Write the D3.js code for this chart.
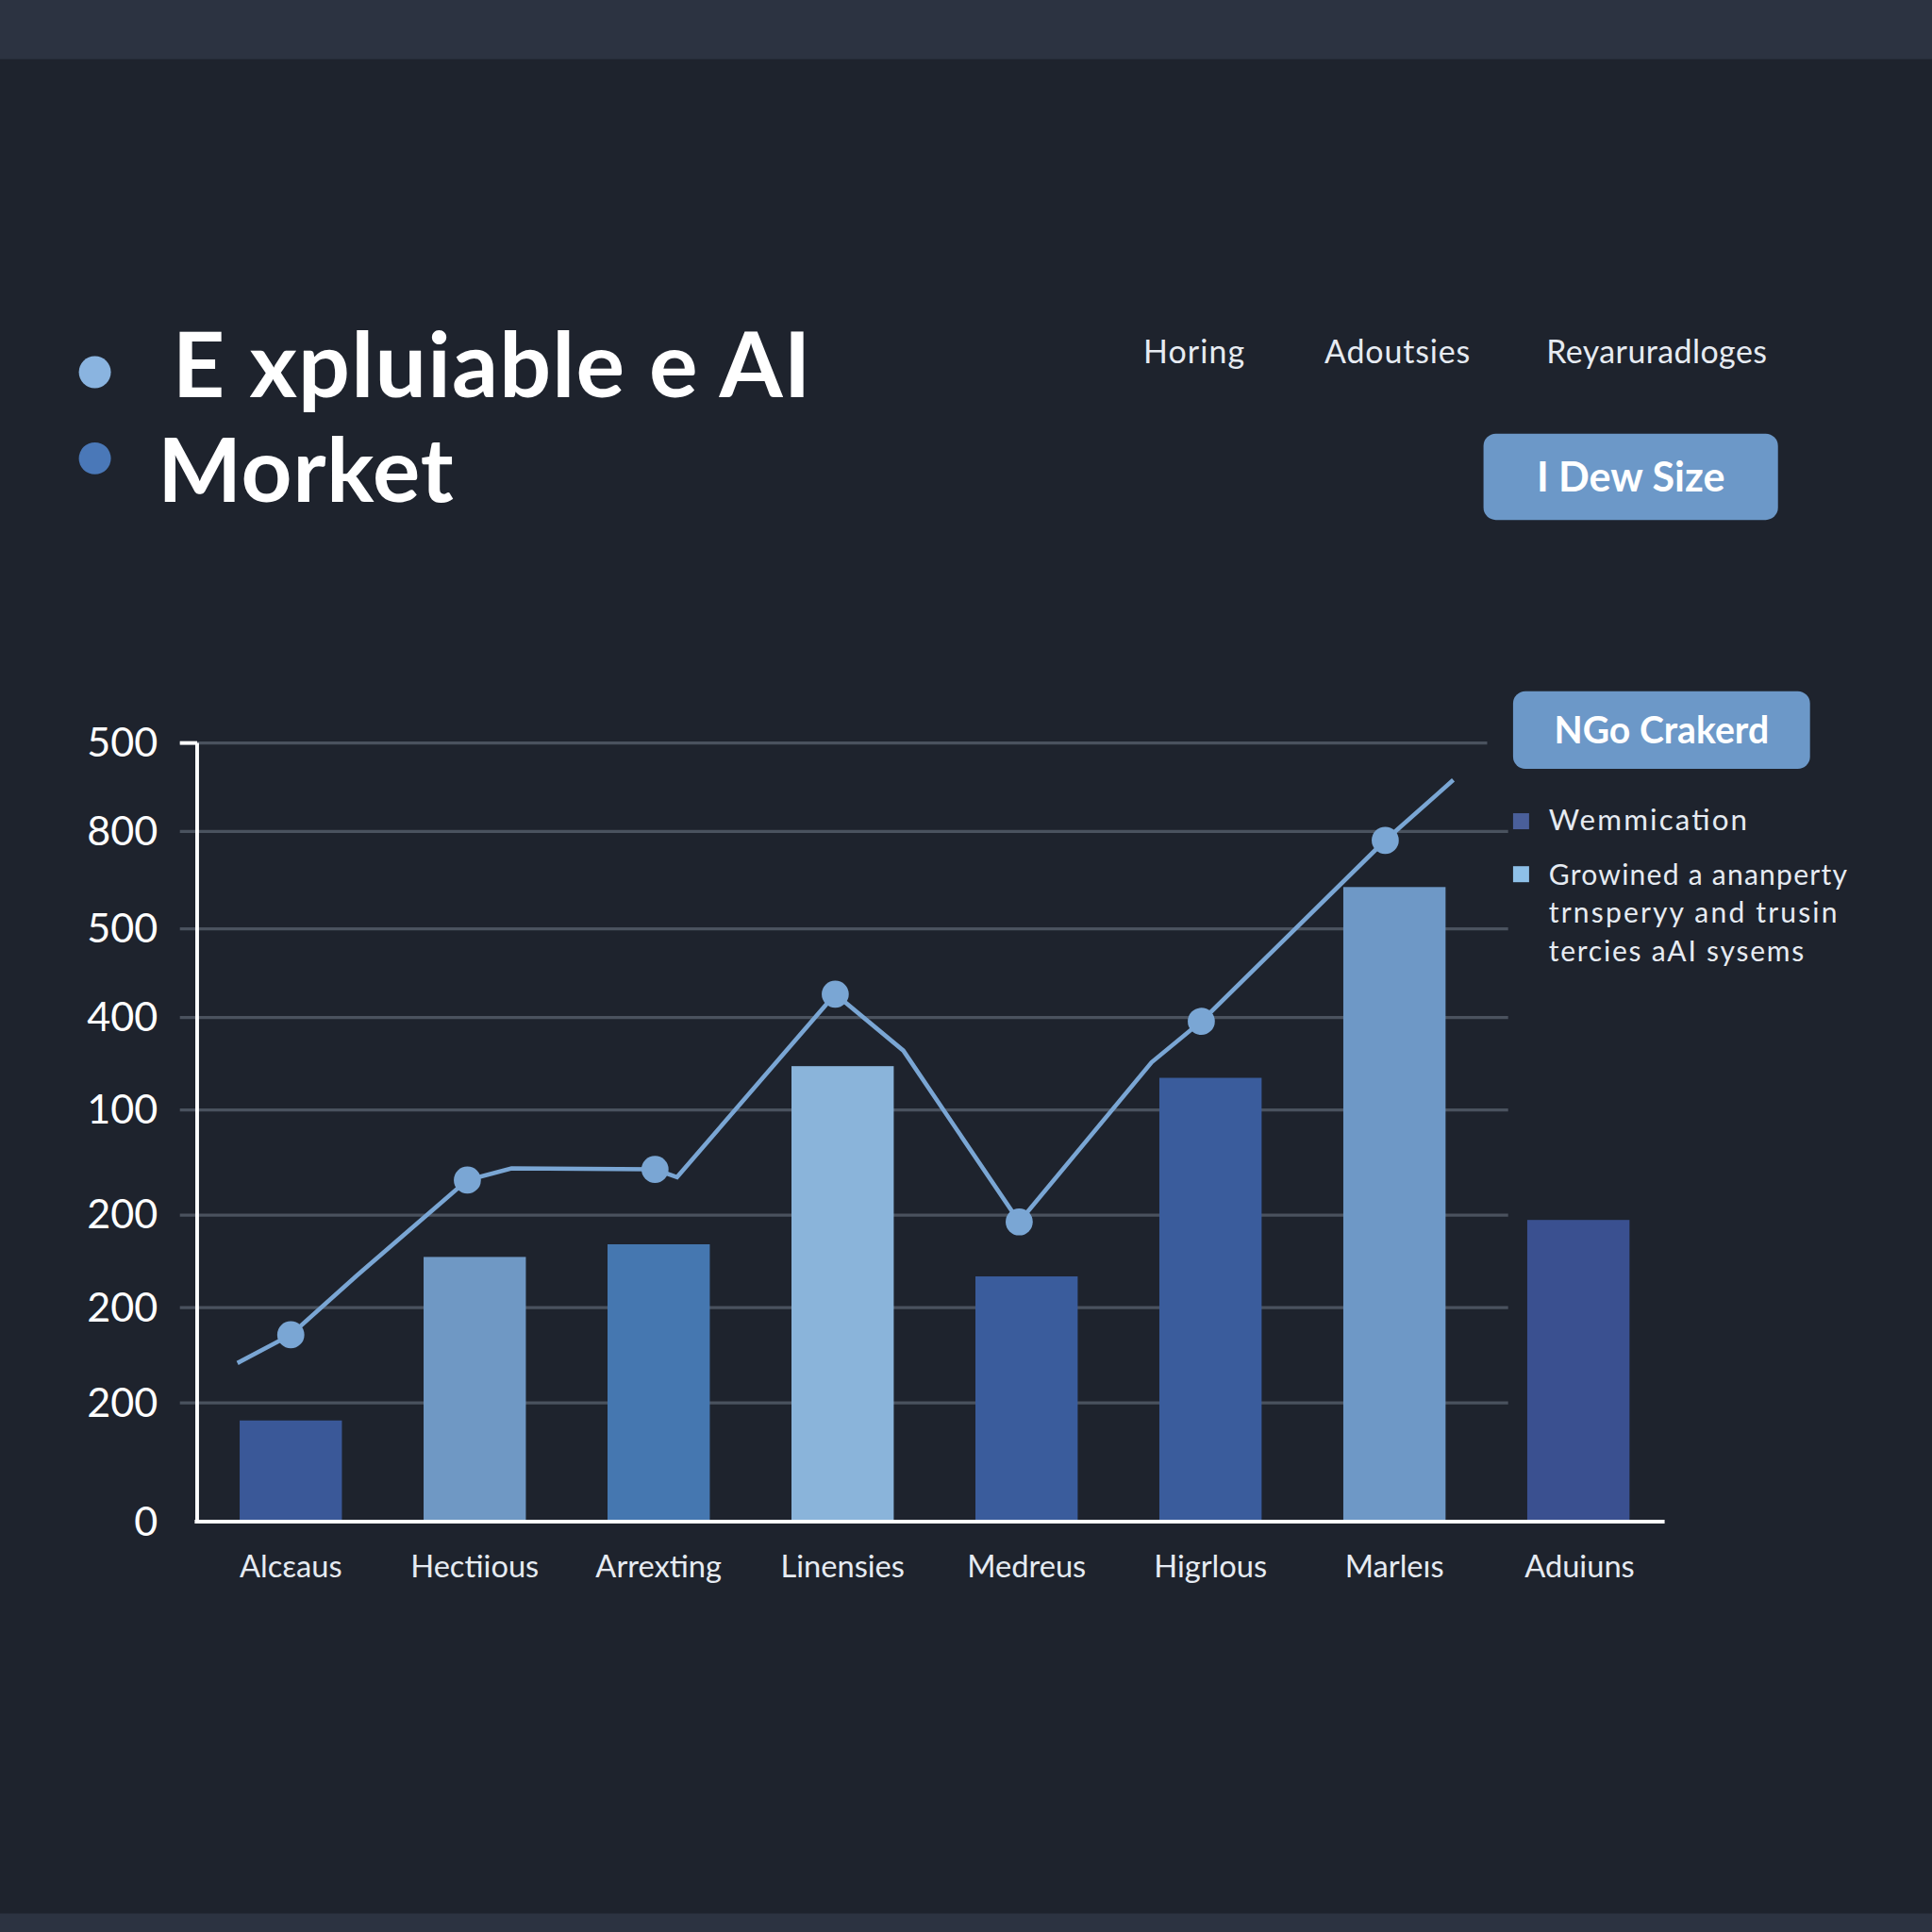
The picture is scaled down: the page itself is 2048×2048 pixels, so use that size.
<!DOCTYPE html>
<html><head><meta charset="utf-8">
<script src="https://cdn.jsdelivr.net/npm/d3@7"></script>
<style>html,body{margin:0;padding:0;background:#1e232d}</style>
</head><body>
<svg id="c" width="2048" height="2048" viewBox="0 0 1568 1568"></svg>
<script>
const categories = ["Alcεaus","Hectiious","Arrexting","Linensies","Medreus","Higrlous","Marleıs","Aduiuns"];
const barValues = [104, 272, 285, 468, 252, 456, 652, 310];
const barColors = ["#3a5898","#6f98c4","#4577b0","#8ab4da","#3a5c9c","#3a5c9c","#6e98c6","#3a5090"];
const lineIdx = [-0.29,0,0.36,0.96,1.2,1.98,2.1,2.96,3.33,3.96,4.68,4.95,5.95,6.32];
const lineVals = [163,192,253,351,363,362,354,542,484,308,472,514,700,762];
const markerIdx = [0,0.96,1.98,2.96,3.96,4.95,5.95];
const markerVals = [192,351,362,542,308,514,700];
const tickValues = [0,122,220,315,423,518,609,709,800];
const tickLabels = ["0","200","200","200","100","400","500","800","500"];
const navItems = ["Horing","Adoutsies","Reyaruradloges"];
const legendItems = ["Wemmication","Growined a ananperty"];
const legendExtra = ["trnsperyy and trusin","tercies aAI sysems"];

const svg = d3.select("#c");
const F = "Lato, 'Open Sans', sans-serif";
svg.append("rect").attr("width",1568).attr("height",1568).attr("fill","#1e232d");
svg.append("rect").attr("width",1568).attr("height",48).attr("fill","#2c3341");
svg.append("rect").attr("y",1553).attr("width",1568).attr("height",15).attr("fill","#2c3341");

svg.append("circle").attr("cx",77).attr("cy",302).attr("r",13).attr("fill","#8ab4e0");
svg.append("circle").attr("cx",77).attr("cy",372).attr("r",13).attr("fill","#4a78b8");
svg.append("text").attr("x",140).attr("y",322).attr("font-family",F).attr("font-weight",700)
  .attr("font-size",74).attr("fill","#fff").attr("textLength",518).text("E xpluiable e AI");
svg.append("text").attr("x",128).attr("y",407).attr("font-family",F).attr("font-weight",700)
  .attr("font-size",72).attr("fill","#fff").attr("textLength",240).text("Morket");
const navX=[928,1075,1255], navW=[82,118,179];
navItems.forEach((t,i)=>svg.append("text").attr("x",navX[i]).attr("y",295).attr("font-family",F)
  .attr("font-size",26).attr("fill","#e6ebf2").attr("textLength",navW[i]).text(t));

function button(x,y,w,h,t,fs){
  svg.append("rect").attr("x",x).attr("y",y).attr("width",w).attr("height",h).attr("rx",10).attr("fill","#6c98c8");
  svg.append("text").attr("x",x+w/2).attr("y",y+h/2).attr("dy","0.36em").attr("text-anchor","middle")
   .attr("font-family",F).attr("font-weight",700).attr("font-size",fs).attr("fill","#fff").text(t);
}
button(1204,352,239,70,"I Dew Size",33);
button(1228,561,241,63,"NGo Crakerd",30);

svg.append("rect").attr("x",1228).attr("y",660).attr("width",13).attr("height",13).attr("fill","#4a5f9a");
svg.append("rect").attr("x",1228).attr("y",703).attr("width",13).attr("height",13).attr("fill","#8ec0e8");
svg.append("text").attr("x",1257).attr("y",674).attr("font-family",F).attr("font-size",24).attr("fill","#e6ebf2").attr("textLength",161).text(legendItems[0]);
const lw=[242,234,207];
[legendItems[1],...legendExtra].forEach((t,i)=>svg.append("text").attr("x",1257).attr("y",718+i*31)
  .attr("font-family",F).attr("font-size",23).attr("fill","#e6ebf2").attr("textLength",lw[i]).text(t));

const y = d3.scaleLinear().domain([0,800]).range([1235,603]);
const xi = d3.scaleLinear().domain([0,7]).range([236,1281]);
const bw = 83;
const g = svg.append("g");
g.selectAll(".grid").data(tickValues.slice(1)).join("line")
  .attr("x1",146).attr("x2",(d,i)=>i===tickValues.length-2?1207:1224)
  .attr("y1",d=>y(d)).attr("y2",d=>y(d)).attr("stroke","#4a525e").attr("stroke-width",2.5);
g.selectAll(".bar").data(barValues).join("rect")
  .attr("x",(d,i)=>xi(i)-bw/2).attr("width",bw).attr("y",d=>y(d)).attr("height",d=>y(0)-y(d))
  .attr("fill",(d,i)=>barColors[i]);
const yAxis = d3.axisLeft(y).tickValues(tickValues).tickFormat((d,i)=>tickLabels[i]).tickSize(0).tickPadding(32);
const ya = svg.append("g").attr("transform","translate(160,0)").call(yAxis);
ya.select(".domain").remove();
ya.selectAll("text").attr("font-family",F).attr("font-size",33).attr("fill","#fff");
svg.append("line").attr("x1",160).attr("x2",160).attr("y1",603).attr("y2",1236).attr("stroke","#fff").attr("stroke-width",3);
svg.append("line").attr("x1",158).attr("x2",1351).attr("y1",1235).attr("y2",1235).attr("stroke","#fff").attr("stroke-width",3);
svg.append("line").attr("x1",146).attr("x2",160).attr("y1",603).attr("y2",603).attr("stroke","#fff").attr("stroke-width",3);
svg.selectAll(".xl").data(categories).join("text")
  .attr("x",(d,i)=>xi(i)+(i===7?1:0)).attr("y",1280).attr("text-anchor","middle")
  .attr("font-family",F).attr("font-size",25).attr("fill","#e6ebf2").text(d=>d);
const line = d3.line().x(d=>xi(d[0])).y(d=>y(d[1]));
svg.append("path").attr("d",line(lineIdx.map((v,i)=>[v,lineVals[i]])))
  .attr("fill","none").attr("stroke","#7aa6d4").attr("stroke-width",3.5);
svg.selectAll(".mk").data(markerIdx).join("circle")
  .attr("cx",d=>xi(d)).attr("cy",(d,i)=>y(markerVals[i])).attr("r",11).attr("fill","#7aa6d4");
</script>
</body></html>
